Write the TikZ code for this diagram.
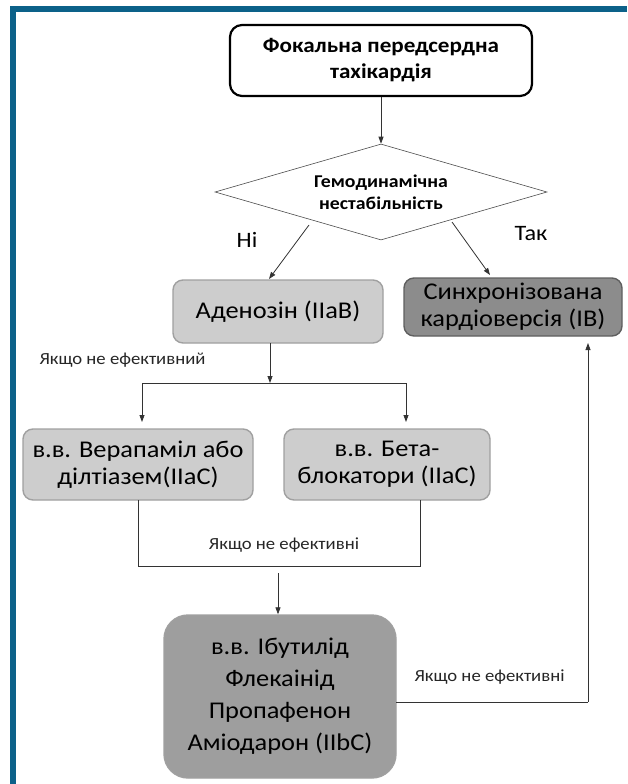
\documentclass[tikz,border=0pt]{standalone}
\usepackage{fontspec}
\setmainfont{Carlito}[FakeStretch=1.1]
\usepackage{xcolor}
\usetikzlibrary{arrows.meta,shapes.geometric}
\definecolor{frameblue}{RGB}{12,97,137}
\definecolor{lightbox}{RGB}{205,205,205}
\definecolor{lightedge}{RGB}{160,160,160}
\definecolor{darkbox}{RGB}{140,140,140}
\definecolor{midbox}{RGB}{158,158,158}
\definecolor{darkedge}{RGB}{95,95,95}
\tikzset{
  startbox/.style={draw=black,line width=2.2pt,rounded corners=12pt,fill=white,align=center,
    inner sep=0pt,font=\fontsize{21}{26}\selectfont\bfseries},
  decision/.style={diamond,draw=black!70,line width=0.6pt,aspect=3.46,inner sep=0pt,
    align=center,font=\fontsize{18}{22}\selectfont\bfseries},
  lightstep/.style={draw=lightedge,line width=1.4pt,fill=lightbox,rounded corners=10pt,
    align=center,inner sep=0pt,font=\fontsize{24}{27}\selectfont},
  darkstep/.style={draw=darkedge,line width=1.4pt,fill=darkbox,rounded corners=10pt,
    align=center,inner sep=0pt,font=\fontsize{24}{27}\selectfont},
  laststep/.style={draw=lightedge,line width=1.4pt,fill=midbox,rounded corners=24pt,
    align=center,inner sep=0pt,font=\fontsize{24}{32}\selectfont},
  lbl/.style={font=\fontsize{17}{20}\selectfont,text=black!85},
  yesno/.style={font=\fontsize{22}{24}\selectfont},
  conn/.style={draw=black!80,line width=0.8pt},
  arr/.style={conn,-{Triangle[length=7pt,width=5pt]}}
}
\begin{document}
\begin{tikzpicture}[x=1pt,y=-1pt]
\useasboundingbox (0,0) rectangle (627,784);
% frame
\fill[frameblue] (10,6) rectangle (627,12);
\fill[frameblue] (10,6) rectangle (16,784);

% nodes
\node[startbox,minimum width=302pt,minimum height=71pt] (start) at (381,60.5)
  {Фокальна передсердна\\тахікардія};
\node[decision,minimum width=332pt,minimum height=96pt] (dia) at (381,192)
  {Гемодинамічна\\нестабільність};
\node[lightstep,minimum width=210pt,minimum height=63pt] (aden) at (278,311.5) {Аденозін (IIaB)};
\node[darkstep,minimum width=218pt,minimum height=58pt] (cardio) at (513,307)
  {Синхронізована\\кардіоверсія (IB)};
\node[lightstep,minimum width=230pt,minimum height=71pt] (vera) at (138,464.5)
  {в.в. Верапаміл або\\ділтіазем(IIaC)};
\node[lightstep,minimum width=206pt,minimum height=71pt] (beta) at (387,464.5)
  {в.в. Бета-\\блокатори (IIaC)};
\node[laststep,minimum width=232pt,minimum height=163pt] (ibut) at (280,696.5)
  {в.в. Ібутилід\\Флекаінід\\Пропафенон\\Аміодарон (IIbC)};

% helper points
\coordinate (noA) at (309,225);
\coordinate (noB) at (269,279);
\coordinate (yesA) at (452,222);
\coordinate (yesB) at (490,275);
\coordinate (adenOut) at (270,343);
\coordinate (split) at (270,383);
\coordinate (splitL) at (142,383);
\coordinate (splitR) at (406,383);
\coordinate (veraOut) at (138,500);
\coordinate (betaOut) at (420,500);
\coordinate (joinL) at (138,566);
\coordinate (joinR) at (420,566);
\coordinate (joinA) at (278,573);
\coordinate (ibutOut) at (396,702);
\coordinate (upCorner) at (588,702);
\coordinate (cardioIn) at (588,343);

% connectors
\draw[arr] (start.south) -- (dia.north);
\draw[arr] (noA) -- (noB);
\draw[arr] (yesA) -- (yesB);
\node[yesno] (no) at (247,240) {Ні};
\node[yesno] (yes) at (531,234) {Так};
\draw[arr] (adenOut) -- (split);
\draw[conn] (splitL) -- (splitR);
\draw[arr] (splitL) -- ++(0,39);
\draw[arr] (splitR) -- ++(0,39);
\node[lbl,anchor=west] (fail1) at (36,360) {Якщо не ефективний};
\draw[conn] (veraOut) -- (joinL) -- (joinR) -- (betaOut);
\node[lbl] (fail2) at (284,545) {Якщо не ефективні};
\draw[arr] (joinA) -- (joinA |- ibut.north);
\draw[conn] (ibutOut) -- (upCorner);
\draw[arr] (upCorner) -- (cardioIn);
\node[lbl,anchor=west] (fail3) at (411,677) {Якщо не ефективні};
\end{tikzpicture}
\end{document}
